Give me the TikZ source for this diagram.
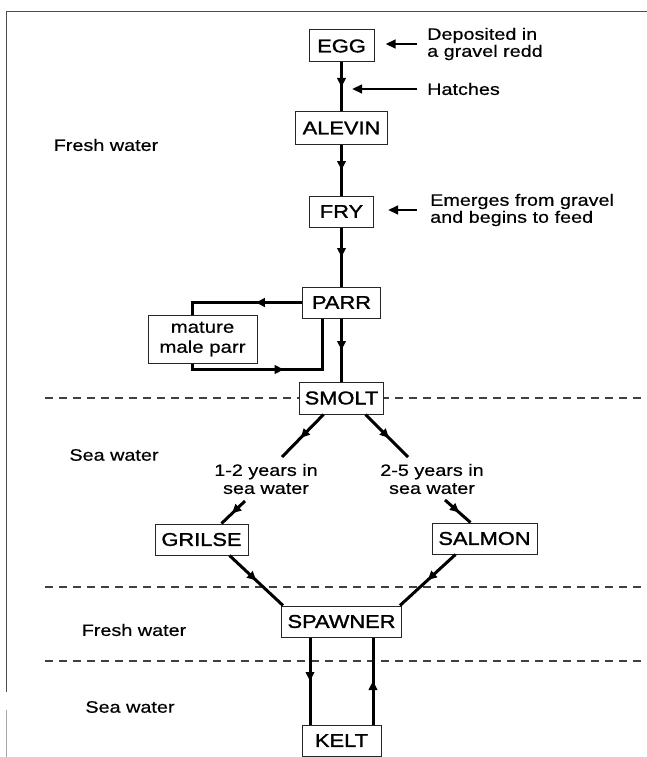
\documentclass[tikz,border=0pt]{standalone}
\usepackage{fontspec}
\setmainfont[FakeStretch=1.2,FakeBold=0.5]{Liberation Sans}
\newfontfamily\boxfont[FakeStretch=1.18,FakeBold=1.4]{Liberation Sans}
\usetikzlibrary{arrows.meta,decorations.markings,calc}
\begin{document}
\begin{tikzpicture}[x=1pt,y=-1pt,
 stage/.style={draw=black!85,line width=1pt,fill=white,inner sep=0pt,font=\boxfont\fontsize{18.5}{20}\selectfont},
 note/.style={inner sep=0pt,align=left,font=\fontsize{16.5}{17}\selectfont},
 cnote/.style={inner sep=0pt,align=center,font=\fontsize{16.5}{18}\selectfont},
 region/.style={inner sep=0pt,font=\fontsize{16.5}{18}\selectfont},
 conn/.style={line width=3pt},
 midarrow/.style={postaction={decorate},decoration={markings,mark=at position #1 with {\arrow{Triangle[length=9pt,width=8.5pt]}}}},
 midarrow/.default=0.55,
 sidearrow/.style={line width=2.4pt,-{Triangle[length=10pt,width=8.5pt]}},
 zone/.style={line width=1.3pt,draw=black!75,dash pattern=on 8pt off 6pt},
 frame/.style={line width=1pt,draw=black!70}]
\useasboundingbox (0,0) rectangle (647,757);
% frame
\draw[frame] (647,12) -- (6,12) -- (6,692);
\draw[frame,draw=black!35] (6,710) -- (6,757);
% zone boundaries
\draw[zone] (45,398) -- (647,398);
\draw[zone] (45,587) -- (647,587);
\draw[zone] (45,661) -- (647,661);
% region labels
\node[region] (fw1) at (106,145) {Fresh water};
\node[region] (sw1) at (114,455) {Sea water};
\node[region] (fw2) at (134,630) {Fresh water};
\node[region] (sw2) at (130,707) {Sea water};
% stages
\node[stage,minimum width=65pt,minimum height=32pt] (egg) at (341.5,46) {EGG};
\node[stage,minimum width=92pt,minimum height=32pt] (alevin) at (341.5,128) {ALEVIN};
\node[stage,minimum width=64pt,minimum height=31pt] (fry) at (341.5,211.5) {FRY};
\node[stage,minimum width=78pt,minimum height=31pt] (parr) at (341.5,302.5) {PARR};
\node[stage,minimum width=109pt,minimum height=48pt,font=\fontsize{17}{20}\selectfont,align=center] (mature) at (202.5,339) {mature\\male parr};
\node[stage,minimum width=84pt,minimum height=32pt] (smolt) at (341.5,398) {SMOLT};
\node[stage,minimum width=93pt,minimum height=31pt] (grilse) at (201.5,539.5) {GRILSE};
\node[stage,minimum width=105pt,minimum height=31pt] (salmon) at (484.5,538.5) {SALMON};
\node[stage,minimum width=120pt,minimum height=31pt] (spawner) at (341.5,621.5) {SPAWNER};
\node[stage,minimum width=79pt,minimum height=31pt] (kelt) at (341.5,740.5) {KELT};
% side notes
\node[note,anchor=west] (dep) at (427,44) {Deposited in\\a gravel redd};
\node[note,anchor=west] (hat) at (427,89) {Hatches};
\node[note,anchor=west] (emg) at (430,210) {Emerges from gravel\\and begins to feed};
\node[cnote] (yrs1) at (266,479) {1-2 years in\\sea water};
\node[cnote] (yrs2) at (432,479) {2-5 years in\\sea water};
% side arrows
\draw[sidearrow,shorten <=10pt,shorten >=11pt] (dep.west) -- (dep.west -| egg.east);
\draw[sidearrow,shorten <=10pt,shorten >=10.5pt] (hat.west) -- (hat.west -| egg.south);
\draw[sidearrow,shorten <=13pt,shorten >=14pt] (emg.west) -- (emg.west -| fry.east);
% main chain
\draw[conn,midarrow=0.5] (egg.south) -- (alevin.north);
\draw[conn,midarrow=0.5] (alevin.south) -- (fry.north);
\draw[conn,midarrow=0.5] (fry.south) -- (parr.north);
\draw[conn,midarrow=0.5] (parr.south) -- (smolt.north);
% parr loop
\draw[conn,midarrow=0.38] (parr.west) -| ($(mature.north)+(-10,0)$);
\draw[conn,midarrow=0.52] ($(mature.south)+(-10,0)$) -- ++(0,6) -| ($(parr.south)+(-19,0)$);
% sea branches
\draw[conn,midarrow] ($(smolt.south)+(-18,0)$) -- ($(yrs1.center)+(16,-22)$);
\draw[conn,midarrow] ($(yrs1.center)+(-21,22)$) -- ($(grilse.north)+(20,0)$);
\draw[conn,midarrow] ($(smolt.south)+(24,0)$) -- ($(yrs2.center)+(-24,-22)$);
\draw[conn,midarrow] ($(yrs2.center)+(13,21)$) -- ($(salmon.north)+(-14,0)$);
\draw[conn,midarrow=0.5] ($(grilse.south)+(28,0)$) -- ($(spawner.north west)+(2,0)$);
\draw[conn,midarrow=0.5] ($(salmon.south)+(-29,0)$) -- ($(spawner.north east)+(-2,0)$);
\draw[conn,midarrow=0.5] ($(spawner.south)+(-31.5,0)$) -- ($(kelt.north)+(-31.5,0)$);
\draw[conn,midarrow=0.5] ($(kelt.north)+(31.5,0)$) -- ($(spawner.south)+(31.5,0)$);
\end{tikzpicture}
\end{document}
